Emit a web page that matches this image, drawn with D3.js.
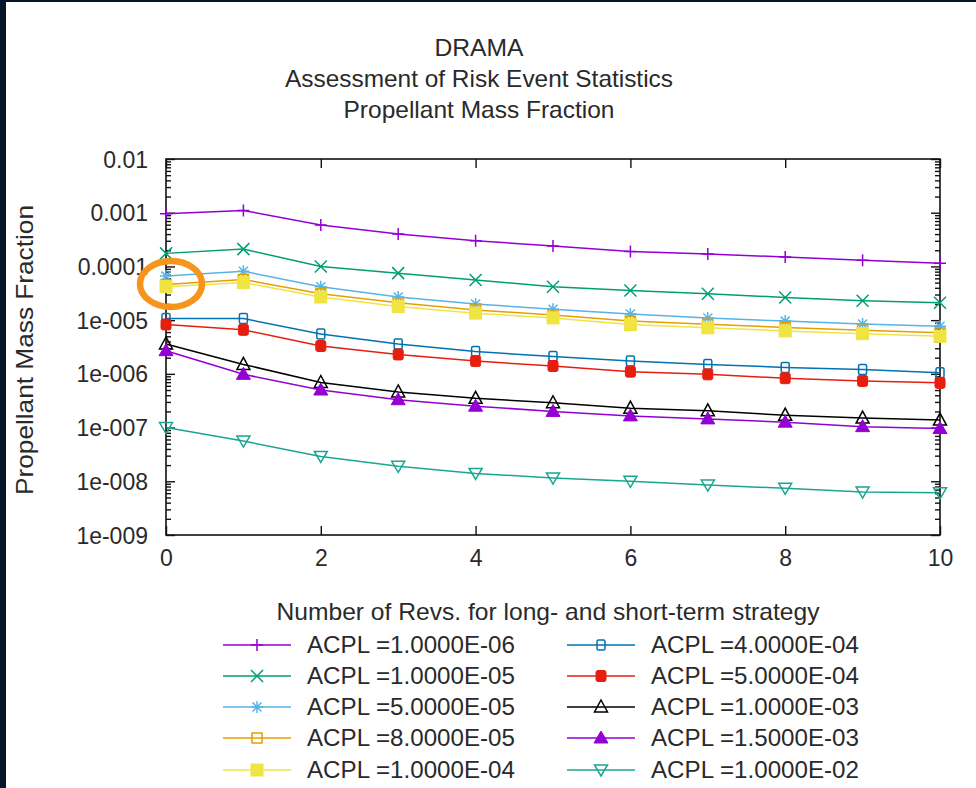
<!DOCTYPE html>
<html><head><meta charset="utf-8">
<script src="https://cdn.jsdelivr.net/npm/d3@7/dist/d3.min.js"></script>
<style>
html,body{margin:0;padding:0;background:#061529;}
svg{display:block;}
text{font-family:"Liberation Sans",Arial,sans-serif;fill:#2a2a2a;}
</style></head>
<body>
<svg id="chart" width="976" height="788"></svg>
<script>
// ---- data ----
const revs = [0,1,2,3,4,5,6,7,8,9,10];
const seriesNames = [
  "ACPL =1.0000E-06","ACPL =1.0000E-05","ACPL =5.0000E-05","ACPL =8.0000E-05","ACPL =1.0000E-04",
  "ACPL =4.0000E-04","ACPL =5.0000E-04","ACPL =1.0000E-03","ACPL =1.5000E-03","ACPL =1.0000E-02"
];
const acpl_1e6  = [9.6e-4,1.1e-3,5.9e-4,4.0e-4,3.0e-4,2.4e-4,1.9e-4,1.7e-4,1.5e-4,1.3e-4,1.15e-4];
const acpl_1e5  = [1.75e-4,2.1e-4,1.0e-4,7.5e-5,5.6e-5,4.2e-5,3.55e-5,3.1e-5,2.65e-5,2.3e-5,2.1e-5];
const acpl_5e5  = [6.6e-5,8.1e-5,4.2e-5,2.7e-5,2.0e-5,1.6e-5,1.3e-5,1.1e-5,9.6e-6,8.5e-6,7.7e-6];
const acpl_8e5  = [4.6e-5,5.7e-5,3.1e-5,2.1e-5,1.55e-5,1.25e-5,9.6e-6,8.4e-6,7.3e-6,6.5e-6,5.8e-6];
const acpl_1e4  = [4.2e-5,5.0e-5,2.7e-5,1.8e-5,1.35e-5,1.1e-5,8.3e-6,7.2e-6,6.3e-6,5.6e-6,5.0e-6];
const acpl_4e4  = [1.07e-5,1.07e-5,5.5e-6,3.6e-6,2.6e-6,2.1e-6,1.73e-6,1.5e-6,1.32e-6,1.21e-6,1.05e-6];
const acpl_5e4  = [8.3e-6,6.6e-6,3.3e-6,2.3e-6,1.73e-6,1.4e-6,1.1e-6,9.8e-7,8.3e-7,7.4e-7,6.8e-7];
const acpl_1e3  = [3.6e-6,1.5e-6,6.9e-7,4.6e-7,3.5e-7,2.9e-7,2.3e-7,2.05e-7,1.7e-7,1.5e-7,1.38e-7];
const acpl_15e3 = [2.7e-6,9.8e-7,5.0e-7,3.3e-7,2.5e-7,2.0e-7,1.65e-7,1.45e-7,1.26e-7,1.04e-7,9.6e-8];
const acpl_1e2  = [1.0e-7,5.6e-8,2.9e-8,1.9e-8,1.4e-8,1.15e-8,1.0e-8,8.5e-9,7.4e-9,6.3e-9,6.1e-9];
const seriesValues = [acpl_1e6,acpl_1e5,acpl_5e5,acpl_8e5,acpl_1e4,acpl_4e4,acpl_5e4,acpl_1e3,acpl_15e3,acpl_1e2];
const yTickValues = [1e-2,1e-3,1e-4,1e-5,1e-6,1e-7,1e-8,1e-9];
const yTickLabels = ["0.01","0.001","0.0001","1e-005","1e-006","1e-007","1e-008","1e-009"];
const xTickValues = [0,2,4,6,8,10];
const titleLines = ["DRAMA","Assessment of Risk Event Statistics","Propellant Mass Fraction"];
const xTitle = "Number of Revs. for long- and short-term strategy";
const yTitle = "Propellant Mass Fraction";

// ---- styles ----
const colors = ["#9400d3","#009e73","#56b4e9","#e69f00","#f0e442","#0072b2","#e51e10","#000000","#9400d3","#1aa592"];
const markers = ["plus","cross","star","sqOpen","sqFill","circOpen","circFill","triOpen","triFill","triDownOpen"];
const titleWidths = [89,388,271];

const svg = d3.select("#chart");
svg.append("rect").attr("x",6).attr("y",2).attr("width",970).attr("height",786).attr("fill","#ffffff");

const L=166,R=940,T=159,B=535;
const x = d3.scaleLinear().domain([0,10]).range([L,R]);
const y = d3.scaleLog().domain([1e-9,1e-2]).range([B,T]);

// titles
svg.selectAll(".title").data(titleLines).join("text")
  .attr("x",479).attr("y",(d,i)=>56+i*31).attr("text-anchor","middle")
  .attr("font-size",24).attr("textLength",(d,i)=>titleWidths[i]).attr("lengthAdjust","spacingAndGlyphs").text(d=>d);

const minor=[];
for(let e=-9;e<-2;e++){for(let k=2;k<=9;k++){minor.push(k*Math.pow(10,e));}}

const axG = svg.append("g");
axG.append("g").attr("transform",`translate(${L},0)`)
  .call(d3.axisLeft(y).tickValues(yTickValues).tickFormat((d,i)=>yTickLabels[i]).tickSizeInner(-9).tickSizeOuter(0).tickPadding(18))
  .call(g=>{g.select(".domain").remove();g.selectAll("text").attr("font-size",23).attr("fill","#2a2a2a").attr("dy","0.35em");});
axG.append("g").attr("transform",`translate(${L},0)`)
  .call(d3.axisLeft(y).tickValues(minor).tickFormat("").tickSizeInner(-5).tickSizeOuter(0))
  .call(g=>g.select(".domain").remove());
axG.append("g").attr("transform",`translate(${R},0)`)
  .call(d3.axisRight(y).tickValues(yTickValues).tickFormat("").tickSizeInner(-9).tickSizeOuter(0))
  .call(g=>g.select(".domain").remove());
axG.append("g").attr("transform",`translate(${R},0)`)
  .call(d3.axisRight(y).tickValues(minor).tickFormat("").tickSizeInner(-5).tickSizeOuter(0))
  .call(g=>g.select(".domain").remove());
axG.append("g").attr("transform",`translate(0,${B})`)
  .call(d3.axisBottom(x).tickValues(xTickValues).tickFormat(d3.format("d")).tickSizeInner(-9).tickSizeOuter(0).tickPadding(23))
  .call(g=>{g.select(".domain").remove();g.selectAll("text").attr("font-size",23).attr("fill","#2a2a2a").attr("dy","0.35em");});
axG.append("g").attr("transform",`translate(0,${T})`)
  .call(d3.axisTop(x).tickValues(xTickValues).tickFormat("").tickSizeInner(-9).tickSizeOuter(0))
  .call(g=>g.select(".domain").remove());
axG.selectAll("line").attr("stroke","#111").attr("stroke-width",1.4);
svg.append("rect").attr("x",L).attr("y",T).attr("width",R-L).attr("height",B-T)
  .attr("fill","none").attr("stroke","#111").attr("stroke-width",1.6);

// axis titles
svg.append("text").attr("x",548).attr("y",620).attr("text-anchor","middle").attr("font-size",24)
  .attr("textLength",543).attr("lengthAdjust","spacingAndGlyphs").text(xTitle);
svg.append("text").attr("transform","translate(33,350) rotate(-90)").attr("text-anchor","middle").attr("font-size",24)
  .attr("textLength",290).attr("lengthAdjust","spacingAndGlyphs").text(yTitle);

function drawMarker(g,type,color){
  const s=6;
  switch(type){
    case "plus": g.append("path").attr("d",`M${-s},0H${s}M0,${-s}V${s}`).attr("stroke",color).attr("stroke-width",1.5).attr("fill","none");break;
    case "cross": g.append("path").attr("d",`M${-s},${-s}L${s},${s}M${-s},${s}L${s},${-s}`).attr("stroke",color).attr("stroke-width",1.5).attr("fill","none");break;
    case "star": g.append("path").attr("d",`M${-s},0H${s}M0,${-s}V${s}M${-s*0.75},${-s*0.75}L${s*0.75},${s*0.75}M${-s*0.75},${s*0.75}L${s*0.75},${-s*0.75}`).attr("stroke",color).attr("stroke-width",1.5).attr("fill","none");break;
    case "sqOpen": g.append("rect").attr("x",-5).attr("y",-5).attr("width",10).attr("height",10).attr("fill","none").attr("stroke",color).attr("stroke-width",1.5);break;
    case "sqFill": g.append("rect").attr("x",-6).attr("y",-6).attr("width",12).attr("height",12).attr("fill",color).attr("stroke",color).attr("stroke-width",1);break;
    case "circOpen": g.append("rect").attr("x",-4).attr("y",-5).attr("width",8).attr("height",10).attr("rx",1.5).attr("fill","none").attr("stroke",color).attr("stroke-width",1.5);break;
    case "circFill": g.append("rect").attr("x",-5).attr("y",-5.5).attr("width",10).attr("height",11).attr("rx",2).attr("fill",color).attr("stroke",color);break;
    case "triOpen": g.append("path").attr("d","M0,-7L6.5,5H-6.5Z").attr("fill","none").attr("stroke",color).attr("stroke-width",1.5);break;
    case "triFill": g.append("path").attr("d","M0,-7L7,5H-7Z").attr("fill",color).attr("stroke",color).attr("stroke-width",1);break;
    case "triDownOpen": g.append("path").attr("d","M0,6L6.5,-5H-6.5Z").attr("fill","none").attr("stroke",color).attr("stroke-width",1.5);break;
  }
}

const line = d3.line().x((d,i)=>x(revs[i])).y(d=>y(d));
const plotG = svg.append("g");
seriesValues.forEach((vals,si)=>{
  plotG.append("path").attr("d",line(vals)).attr("fill","none").attr("stroke",colors[si]).attr("stroke-width",1.5);
});
seriesValues.forEach((vals,si)=>{
  vals.forEach((v,i)=>{
    const g=plotG.append("g").attr("transform",`translate(${x(revs[i])},${y(v)})`);
    drawMarker(g,markers[si],colors[si]);
  });
});

// legend
const legRowY=[645,676,707,738,770];
seriesNames.forEach((name,i)=>{
  const col=i<5?0:1, row=i%5;
  const x0=col===0?223:567, x1=col===0?291:635, tx=col===0?307:651;
  const yy=legRowY[row];
  svg.append("line").attr("x1",x0).attr("x2",x1).attr("y1",yy).attr("y2",yy).attr("stroke",colors[i]).attr("stroke-width",1.5);
  const g=svg.append("g").attr("transform",`translate(${(x0+x1)/2},${yy})`);
  drawMarker(g,markers[i],colors[i]);
  svg.append("text").attr("x",tx).attr("y",yy).attr("dy","0.35em").attr("font-size",24)
    .attr("textLength",208).attr("lengthAdjust","spacingAndGlyphs").text(name);
});

// orange highlight annotation
svg.append("ellipse").attr("cx",171).attr("cy",284).attr("rx",31).attr("ry",23)
  .attr("fill","none").attr("stroke","#f7941d").attr("stroke-width",6.5);
</script>
</body></html>
